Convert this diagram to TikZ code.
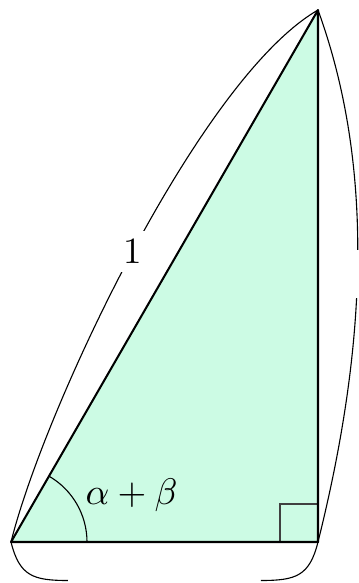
\documentclass[tikz,border=0pt]{standalone}
\usetikzlibrary{calc}
\definecolor{mint}{RGB}{204,251,228}
\begin{document}
\begin{tikzpicture}[x=0.27027pt,y=0.27027pt,
  edge/.style={line width=0.55pt, line join=round},
  thinline/.style={line width=0.3pt},
  gapnode/.style={fill=white, inner sep=0pt}]
\useasboundingbox (0,0) rectangle (359,583);
\clip (0,0) rectangle (359,583);
\coordinate (A) at (11,41);
\coordinate (B) at (318,41);
\coordinate (C) at (318,573);
\coordinate (bl) at (68,2.5);
\coordinate (br) at (261,2.5);
\fill[mint] (A) -- (B) -- (C) -- cycle;
\draw[thinline, black!75] ($(B)+(-38,0)$) rectangle ($(B)+(0,38)$);
\draw[edge] (A) -- (B) -- (C) -- cycle;
\draw[thinline] ($(A)+(76,0)$) arc[start angle=0, end angle=60, radius=76];
\node (ang) at (131.5,88) {$\alpha+\beta$};
\draw[thinline] (A) to[out=76, in=-150, looseness=0.57]
  node[pos=0.5, gapnode, inner sep=2.3pt] (one) {$1$} (C);
\draw[thinline] (B) to[out=76, in=-70, looseness=0.87]
  node[pos=0.5, gapnode, minimum height=13pt, minimum width=4pt] (rgap) {} (C);
\draw[thinline] (A) to[out=-76, in=180, looseness=1.3] (bl);
\draw[thinline] (B) to[out=-104, in=0, looseness=1.3] (br);
\end{tikzpicture}
\end{document}
